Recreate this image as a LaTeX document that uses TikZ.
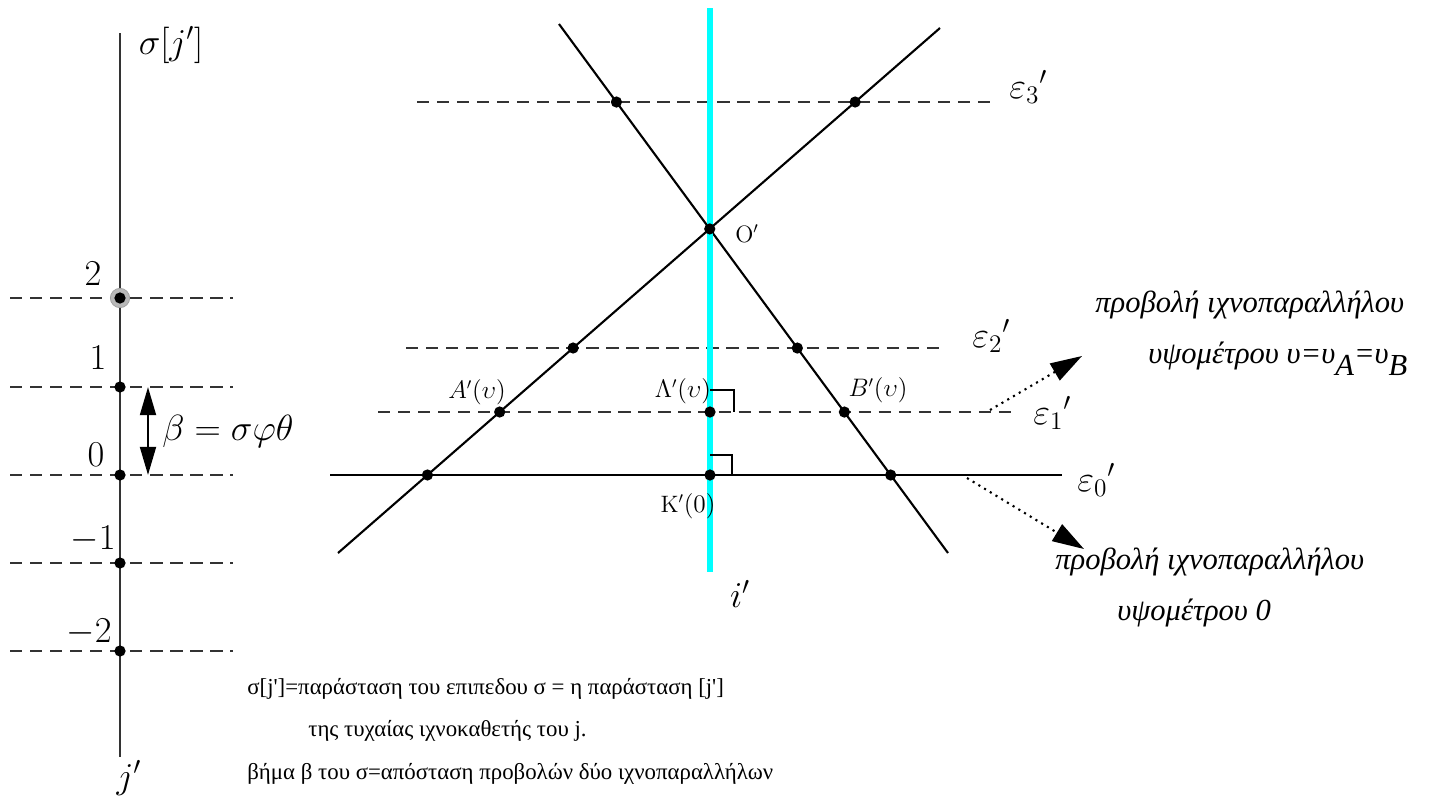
\documentclass[tikz,border=0pt]{standalone}
\usepackage{amsmath,amssymb}
\usepackage{fontspec}
\newfontfamily\grtext[Ligatures=TeXOff]{Liberation Serif}
\usetikzlibrary{arrows.meta, positioning, calc}
\definecolor{tracecyan}{RGB}{0,255,255}

\begin{document}
\begin{tikzpicture}[
  x=0.02cm, y=-0.02cm,
  pt/.style={circle, fill=black, inner sep=0pt, minimum size=6.4pt},
  halo/.style={circle, fill=gray!55, draw=gray!75, inner sep=0pt, minimum size=11pt},
  jaxis/.style={line width=1.2pt, black!80},
  ray/.style={line width=1.2pt, black},
  hline/.style={line width=1.2pt, black!80, dash pattern=on 7pt off 4.4pt},
  trace/.style={line width=3.2pt, tracecyan},
  lab/.style={font=\fontsize{21}{25}\selectfont, inner sep=0pt},
  ptlab/.style={font=\fontsize{13.5}{16}\selectfont, inner sep=0pt},
  note/.style={font=\fontsize{17.4}{20}\selectfont\grtext\itshape, inner sep=0pt, anchor=base west},
  caption/.style={font=\fontsize{13}{15}\selectfont\grtext, inner sep=0pt, anchor=base west},
  pointer/.style={-{Triangle[length=18pt,width=11pt]}, line width=1.2pt, dash pattern=on 1.2pt off 2.6pt},
  betarrow/.style={{Triangle[length=16pt,width=9pt]}-{Triangle[length=16pt,width=9pt]}, line width=1.4pt}
]
\useasboundingbox (0,0) rectangle (1434,796);

% the axis j' with its levels
\coordinate (jtop) at (120,33);
\coordinate (jbot) at (120,757);
\draw[jaxis] (jtop) -- (jbot);

\coordinate (h2w) at (10,298); \coordinate (h2e) at (233,298);
\coordinate (h1w) at (10,387); \coordinate (h1e) at (233,387);
\coordinate (h0w) at (10,475); \coordinate (h0e) at (233,475);
\coordinate (hm1w) at (10,563); \coordinate (hm1e) at (233,563);
\coordinate (hm2w) at (10,651); \coordinate (hm2e) at (233,651);
\draw[hline] (h2w) -- (h2e);
\draw[hline] (h1w) -- (h1e);
\draw[hline] (h0w) -- (h0e);
\draw[hline] (hm1w) -- (hm1e);
\draw[hline] (hm2w) -- (hm2e);

\node[halo] (s2h) at (120,298) {};
\node[pt] (s2)  at (120,298) {};
\node[pt] (s1)  at (120,387) {};
\node[pt] (s0)  at (120,475) {};
\node[pt] (sm1) at (120,563) {};
\node[pt] (sm2) at (120,651) {};

\node[lab] (l2)  at (93,274) {$2$};
\node[lab] (l1)  at (98,358) {$1$};
\node[lab] (l0)  at (96,455) {$0$};
\node[lab] (lm1) at (93,539) {$-1$};
\node[lab] (lm2) at (89,632) {$-2$};
\node[lab] (jname) at (171,45) {$\sigma[j']$};
\node[lab] (jlow)  at (129,778) {$j'$};

\coordinate (bt) at (148,387);
\coordinate (bb) at (148,475);
\draw[betarrow] (bt) -- (bb);
\node[lab, anchor=west] (beta) at (162,431) {$\beta=\sigma\varphi\theta$};

% the plane sigma and the trace i'
\coordinate (ua) at (338,553); \coordinate (ub) at (940,28);
\coordinate (va) at (559,24);  \coordinate (vb) at (948,553);
\coordinate (itop) at (710,8); \coordinate (ibot) at (710,572);

\coordinate (e3w) at (417,102); \coordinate (e3e) at (997,102);
\coordinate (e2w) at (406,348); \coordinate (e2e) at (945,348);
\coordinate (e1w) at (378,412); \coordinate (e1e) at (1012,412);
\coordinate (e0w) at (330,475); \coordinate (e0e) at (1062,475);

\draw[hline] (e3w) -- (e3e);
\draw[hline] (e2w) -- (e2e);
\draw[hline] (e1w) -- (e1e);
\draw[ray] (e0w) -- (e0e);
\draw[ray] (ua) -- (ub);
\draw[ray] (va) -- (vb);
\draw[trace] (itop) -- (ibot);

\node[pt] (O)  at (intersection of ua--ub and va--vb) {};
\node[pt] (P3) at (intersection of va--vb and e3w--e3e) {};
\node[pt] (Q3) at (intersection of ua--ub and e3w--e3e) {};
\node[pt] (P2) at (intersection of ua--ub and e2w--e2e) {};
\node[pt] (Q2) at (intersection of va--vb and e2w--e2e) {};
\node[pt] (A)  at (intersection of ua--ub and e1w--e1e) {};
\node[pt] (L)  at (710,412) {};
\node[pt] (B)  at (intersection of va--vb and e1w--e1e) {};
\node[pt] (P0) at (intersection of ua--ub and e0w--e0e) {};
\node[pt] (K)  at (710,475) {};
\node[pt] (Q0) at (intersection of va--vb and e0w--e0e) {};

\draw[ray] ($(L)+(0,-22)$) -- ++(24,0) -- ++(0,22);
\draw[ray] ($(K)+(0,-20)$) -- ++(22,0) -- ++(0,20);

\node[ptlab, anchor=west] (Olab) at (735,234) {$\mathrm{O}'$};
\node[ptlab] (Alab) at (477,392) {$A'(\upsilon)$};
\node[ptlab] (Llab) at (683,391) {$\Lambda'(\upsilon)$};
\node[ptlab] (Blab) at (878,390) {$B'(\upsilon)$};
\node[ptlab] (Klab) at (688,506) {$\mathrm{K}'(0)$};
\node[lab] (ilab) at (740,594) {$i'$};

\node[lab, anchor=base west] (e3lab) at (1009,98)  {$\varepsilon_3{}'$};
\node[lab, anchor=base west] (e2lab) at (972,347)  {$\varepsilon_2{}'$};
\node[lab, anchor=base west] (e1lab) at (1033,424) {$\varepsilon_1{}'$};
\node[lab, anchor=base west] (e0lab) at (1077,491) {$\varepsilon_0{}'$};

% the two projections
\coordinate (p1s) at (990,410); \coordinate (p1e) at (1082,356);
\coordinate (p2s) at (967,478); \coordinate (p2e) at (1084,549);
\draw[pointer] (p1s) -- (p1e);
\draw[pointer] (p2s) -- (p2e);

\node[note] (n1a) at (1095,312) {προβολή ιχνοπαραλλήλου};
\node[note] (n1b) at (1148,363) {υψομέτρου υ=υ\raisebox{-0.42em}{A}=υ\raisebox{-0.42em}{B}};
\node[note] (n0a) at (1055,569) {προβολή ιχνοπαραλλήλου};
\node[note] (n0b) at (1117,620) {υψομέτρου 0};

% captions
\node[caption] (c1) at (247,694) {σ[j']=παράσταση του επιπεδου σ = η παράσταση [j']};
\node[caption] (c2) at (308,736) {της τυχαίας ιχνοκαθετής του j.};
\node[caption] (c3) at (247,779) {βήμα β του σ=απόσταση προβολών δύο ιχνοπαραλλήλων};
\end{tikzpicture}
\end{document}
